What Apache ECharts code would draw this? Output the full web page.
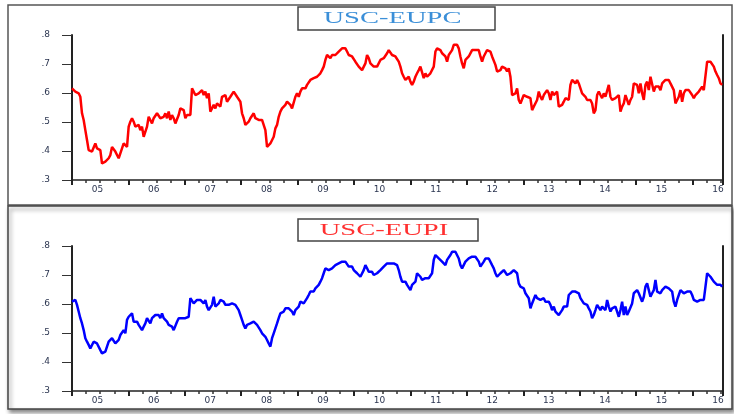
<!DOCTYPE html>
<html>
<head>
<meta charset="utf-8">
<script src="https://cdn.jsdelivr.net/npm/echarts@6/dist/echarts.min.js"></script>
<style>
  html, body { margin: 0; padding: 0; background: #fff; }
  #chart { width: 734px; height: 414px; }
</style>
</head>
<body>
<div id="chart"></div>
<script>
// 序列起点与采样间隔(年)
var startYear = 2005;
var yearStep = 5 / 169.2;

// 年份标签位置(每年中间)
var yearLabels = [2005, 2006, 2007, 2008, 2009, 2010, 2011, 2012, 2013, 2014, 2015, 2016];

var yTicks = [0.3, 0.4, 0.5, 0.6, 0.7, 0.8];

// USC-EUPC
var eupc = [
  0.616,0.610,0.605,0.610,0.599,0.587,0.530,0.507,0.472,0.438,
  0.403,0.398,0.398,0.392,0.426,0.409,0.414,0.403,0.357,0.352,
  0.363,0.363,0.375,0.386,0.414,0.420,0.398,0.392,0.375,0.392,
  0.409,0.426,0.432,0.414,0.484,0.501,0.513,0.501,0.484,0.478,
  0.490,0.472,0.484,0.449,0.449,0.484,0.518,0.513,0.495,0.513,
  0.518,0.530,0.536,0.513,0.507,0.518,0.530,0.513,0.536,0.507,
  0.524,0.513,0.495,0.501,0.524,0.547,0.541,0.541,0.513,0.524,
  0.530,0.524,0.616,0.610,0.593,0.593,0.599,0.605,0.610,0.593,
  0.605,0.582,0.599,0.536,0.547,0.559,0.547,0.564,0.559,0.553,
  0.587,0.587,0.593,0.570,0.576,0.587,0.593,0.605,0.599,0.587,
  0.582,0.570,0.530,0.513,0.490,0.495,0.501,0.513,0.507,0.530,
  0.513,0.518,0.507,0.513,0.507,0.501,0.472,0.414,0.420,0.426,
  0.432,0.449,0.478,0.490,0.518,0.536,0.547,0.553,0.559,0.570,
  0.576,0.559,0.547,0.541,0.587,0.599,0.587,0.605,0.616,0.610,
  0.616,0.628,0.622,0.645,0.639,0.651,0.645,0.656,0.662,0.668,
  0.679,0.691,0.714,0.731,0.726,0.720,0.731,0.726,0.731,0.737,
  0.743,0.748,0.754,0.760,0.754,0.743,0.731,0.737,0.726,0.726,
  0.708,0.702,0.691,0.685,0.679,0.685,0.702,0.731,0.720,0.702,
  0.702,0.691,0.697,0.691,0.697,0.714,0.720,0.720,0.726,0.737,
  0.748,0.743,0.731,0.737,0.726,0.726,0.708,0.691,0.668,0.656,
  0.645,0.651,0.656,0.639,0.628,0.639,0.656,0.668,0.679,0.691,
  0.685,0.651,0.668,0.656,0.662,0.668,0.674,0.691,0.743,0.754,
  0.748,0.748,0.737,0.731,0.726,0.708,0.731,0.731,0.748,0.766,
  0.771,0.766,0.754,0.726,0.702,0.685,0.714,0.720,0.726,0.731,
  0.748,0.754,0.748,0.754,0.748,0.726,0.708,0.726,0.737,0.748,
  0.754,0.743,0.726,0.731,0.697,0.674,0.674,0.679,0.691,0.691,
  0.685,0.674,
  0.685,0.656,0.593,0.587,0.599,0.616,0.576,0.564,0.570,0.593,
  0.599,0.587,0.593,0.582,0.541,0.553,0.559,0.576,0.605,0.587,
  0.576,0.593,0.587,0.610,0.599,0.576,0.605,0.593,0.599,0.605,
  0.553,0.547,0.559,0.570,0.582,0.576,0.576,0.628,0.645,0.639,
  0.633,0.645,0.633,0.616,0.599,0.593,0.587,0.576,0.570,0.576,
  0.564,0.530,0.541,0.593,0.605,0.593,0.582,0.599,0.587,0.593,
  0.628,0.587,0.576,0.582,0.582,0.587,0.593,0.536,0.553,0.564,
  0.593,0.576,0.559,0.576,0.587,0.633,0.639,0.628,0.599,0.633,
  0.599,0.576,0.628,0.639,0.610,0.656,0.662,0.605,0.622,0.616,
  0.622,0.610,0.633,0.639,0.645,0.639,0.645,0.633,0.628,0.610,
  0.564,0.559,0.587,0.610,0.570,0.599,0.610,0.616,0.610,0.616,
  0.593,0.582,0.593,0.599,0.605,0.599,0.622,0.610,0.616,0.708,
  0.714,0.708,0.702,0.691,0.674,0.662,0.651,0.633,0.628
];

// USC-EUPI
var eupi = [
  0.608,0.614,0.614,0.597,0.574,0.551,0.533,0.510,0.482,0.470,
  0.459,0.447,0.453,0.470,0.476,0.464,0.470,0.441,0.430,0.424,
  0.436,0.453,0.470,0.476,0.482,0.487,0.464,0.459,0.476,0.493,
  0.499,0.510,0.499,0.545,0.556,0.556,0.568,0.539,0.533,0.539,
  0.528,0.522,0.510,0.522,0.533,0.551,0.545,0.533,0.551,0.545,
  0.562,0.568,0.562,0.551,0.568,0.551,0.556,0.539,0.528,0.522,
  0.522,0.510,0.516,0.539,0.551,0.545,0.551,0.545,0.551,0.551,
  0.556,0.620,0.614,0.602,0.608,0.614,0.620,0.614,0.620,0.602,
  0.614,0.591,0.579,0.585,0.597,0.625,0.591,0.597,0.602,0.614,
  0.608,0.608,0.597,0.591,0.597,0.591,0.602,0.608,0.597,0.602,
  0.579,0.562,0.545,0.528,0.516,0.528,0.522,0.533,0.528,0.539,
  0.533,0.528,0.522,0.510,0.499,0.493,0.487,0.476,0.464,0.453,
  0.482,0.499,0.505,0.533,0.551,0.568,0.574,0.574,0.585,0.591,
  0.585,0.579,0.574,0.562,0.579,0.585,0.591,0.608,0.614,0.602,
  0.608,0.620,0.631,0.643,0.637,0.643,0.654,0.660,0.666,0.677,
  0.689,0.706,0.723,0.729,0.717,0.723,0.723,0.729,0.734,0.740,
  0.740,0.746,0.746,0.752,0.746,0.740,0.729,0.734,0.729,0.717,
  0.711,0.706,0.706,0.694,0.700,0.717,0.734,0.723,0.711,0.706,
  0.711,0.700,0.706,0.706,0.711,0.717,0.723,0.729,0.734,0.740,
  0.746,0.740,0.746,0.740,0.740,0.734,0.717,0.694,0.677,0.671,
  0.677,0.666,0.660,0.648,0.666,0.671,0.677,0.706,0.711,0.694,
  0.683,0.689,0.689,0.683,0.689,0.694,0.706,0.752,0.769,0.763,
  0.757,0.757,0.746,0.740,0.734,0.752,0.757,0.769,0.780,0.786,
  0.780,0.775,0.757,0.734,0.723,0.729,0.746,0.752,0.757,0.763,
  0.763,0.769,0.763,0.757,0.746,0.729,0.734,0.746,0.757,0.763,
  0.757,0.752,0.734,0.723,0.706,0.694,0.700,0.706,0.711,0.717,
  0.711,0.700,
  0.706,0.706,0.711,0.717,0.711,0.706,0.671,0.660,0.660,0.654,
  0.637,0.631,0.620,0.585,0.602,0.608,0.631,0.620,0.625,0.614,
  0.614,0.620,0.608,0.602,0.608,0.597,0.579,0.591,0.574,0.579,
  0.562,0.568,0.579,0.591,0.585,0.591,0.631,0.637,0.643,0.637,
  0.643,0.637,0.637,0.620,0.614,0.602,0.597,0.597,0.585,0.574,
  0.551,0.562,0.579,0.597,0.602,0.579,0.591,0.585,0.579,0.614,
  0.591,0.574,0.585,0.591,0.591,0.597,0.556,0.579,0.608,0.562,
  0.591,0.562,0.574,0.568,0.602,0.637,0.643,0.648,0.637,0.643,
  0.608,0.625,0.660,0.671,0.671,0.625,0.637,0.648,0.683,0.643,
  0.648,0.637,0.648,0.654,0.660,0.660,0.654,0.660,0.643,0.608,
  0.591,0.614,0.631,0.648,0.643,0.637,0.643,0.643,0.637,0.643,
  0.631,0.614,0.608,0.608,0.614,0.614,0.620,0.614,0.660,0.706,
  0.700,0.694,0.689,0.677,0.683,0.666,0.660,0.666,0.660
];

var toPairs = function (arr) {
  return arr.map(function (v, i) {
    return [startYear + i * yearStep, v];
  });
};

var makeX = function (gi) {
  return {
    type: 'value',
    gridIndex: gi,
    min: 2005,
    max: 2016.54,
    interval: 1,
    axisLine: { show: true, onZero: false, lineStyle: { color: '#222', width: 1.5 } },
    axisTick: { show: true, length: 5, lineStyle: { color: '#222', width: 2 } },
    minorTick: { show: true, splitNumber: 4, length: 3, lineStyle: { color: '#333', width: 1.5 } },
    splitLine: { show: false },
    minorSplitLine: { show: false },
    axisLabel: {
      customValues: yearLabels.map(function (y) { return y + 0.45; }),
      formatter: function (v) {
        var n = Math.floor(v) % 100;
        return (n < 10 ? '0' : '') + n;
      },
      fontFamily: 'DejaVu Sans',
      fontSize: 9,
      color: '#2b3550',
      margin: 5
    }
  };
};

var makeY = function (gi) {
  return {
    type: 'value',
    gridIndex: gi,
    min: yTicks[0],
    max: yTicks[yTicks.length - 1],
    interval: 0.1,
    axisLine: { show: true, lineStyle: { color: '#222', width: 2 } },
    axisTick: { show: true, length: 10, lineStyle: { color: '#333', width: 1 } },
    splitLine: { show: false },
    axisLabel: {
      formatter: function (v) { return v.toFixed(1).replace(/^0/, ''); },
      fontFamily: 'DejaVu Sans',
      fontSize: 9,
      color: '#2b3550',
      margin: 22
    }
  };
};

var makeYRight = function (gi) {
  return {
    type: 'value',
    gridIndex: gi,
    position: 'right',
    min: 0.3,
    max: 0.8,
    axisLine: { show: true, lineStyle: { color: '#222', width: 2 } },
    axisTick: { show: false },
    axisLabel: { show: false },
    splitLine: { show: false }
  };
};

var titleBox = function (x, y, w, h, text, color) {
  return [
    {
      type: 'rect',
      z: 10,
      shape: { x: x, y: y, width: w, height: h },
      style: { fill: '#fff', stroke: '#444', lineWidth: 1.5 }
    },
    {
      type: 'text',
      z: 11,
      x: x + w / 2 - 4,
      y: y + h / 2 + 0.5,
      scaleX: 1.68,
      style: {
        text: text,
        fill: color,
        font: '17px "Liberation Serif", serif',
        align: 'center',
        verticalAlign: 'middle'
      }
    }
  ];
};

var option = {
  backgroundColor: '#fff',
  animation: false,
  graphic: [
    {
      type: 'rect',
      shape: { x: 8, y: 5, width: 724, height: 200 },
      style: { fill: '#fff', stroke: '#555', lineWidth: 1.5 }
    },
    {
      type: 'rect',
      shape: { x: 8, y: 206, width: 724, height: 203 },
      style: {
        fill: '#fff', stroke: '#444', lineWidth: 1.5,
        shadowBlur: 4, shadowOffsetX: 2, shadowOffsetY: 3, shadowColor: 'rgba(0,0,0,0.45)'
      }
    }
  ].concat(
    titleBox(298, 7, 197, 23, 'USC-EUPC', '#3b8fd8'),
    titleBox(298, 219, 180, 22, 'USC-EUPI', '#ff3030')
  ),
  grid: [
    { left: 72, top: 35, width: 651, height: 145, show: true, borderColor: '#666', borderWidth: 1, backgroundColor: '#fff' },
    { left: 72, top: 246, width: 651, height: 145, show: true, borderColor: '#666', borderWidth: 1, backgroundColor: '#fff' }
  ],
  xAxis: [makeX(0), makeX(1)],
  yAxis: [makeY(0), makeY(1), makeYRight(0), makeYRight(1)],
  series: [
    {
      name: 'USC-EUPC',
      type: 'line',
      xAxisIndex: 0,
      yAxisIndex: 0,
      showSymbol: false,
      lineStyle: { color: '#ff0000', width: 2.5 },
      data: toPairs(eupc)
    },
    {
      name: 'USC-EUPI',
      type: 'line',
      xAxisIndex: 1,
      yAxisIndex: 1,
      showSymbol: false,
      lineStyle: { color: '#0000ff', width: 2.5 },
      data: toPairs(eupi)
    }
  ]
};

var myChart = echarts.init(document.getElementById('chart'));
myChart.setOption(option);
</script>
</body>
</html>
